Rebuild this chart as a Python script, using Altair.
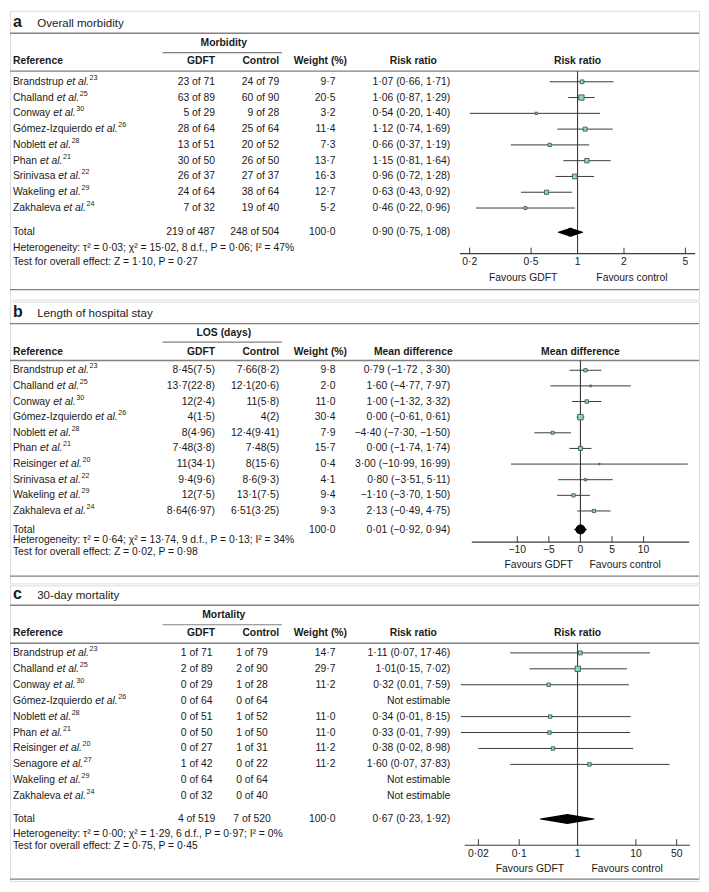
import altair as alt
import pandas as pd

# ---------------- data ----------------
# Panel a: overall morbidity
a_names = ["Brandstrup", "Challand", "Conway", "Gómez-Izquierdo", "Noblett", "Phan", "Srinivasa", "Wakeling", "Zakhaleva"]
a_refs = ["23", "25", "30", "26", "28", "21", "22", "29", "24"]
a_gdft = ["23 of 71", "63 of 89", "5 of 29", "28 of 64", "13 of 51", "30 of 50", "26 of 37", "24 of 64", "7 of 32"]
a_ctrl = ["24 of 79", "60 of 90", "9 of 28", "25 of 64", "20 of 52", "26 of 50", "27 of 37", "38 of 64", "19 of 40"]
a_weight = [9.7, 20.5, 3.2, 11.4, 7.3, 13.7, 16.3, 12.7, 5.2]
a_est = [1.07, 1.06, 0.54, 1.12, 0.66, 1.15, 0.96, 0.63, 0.46]
a_lo = [0.66, 0.87, 0.20, 0.74, 0.37, 0.81, 0.72, 0.43, 0.22]
a_hi = [1.71, 1.29, 1.40, 1.69, 1.19, 1.64, 1.28, 0.92, 0.96]
a_eff = ["1·07 (0·66, 1·71)", "1·06 (0·87, 1·29)", "0·54 (0·20, 1·40)", "1·12 (0·74, 1·69)",
         "0·66 (0·37, 1·19)", "1·15 (0·81, 1·64)", "0·96 (0·72, 1·28)", "0·63 (0·43, 0·92)", "0·46 (0·22, 0·96)"]
a_total_text = ["219 of 487", "248 of 504", "100·0", "0·90 (0·75, 1·08)"]
a_total = [0.90, 0.75, 1.08]
a_ticks = [0.2, 0.5, 1, 2, 5]
a_tick_labels = ["0·2", "0·5", "1", "2", "5"]

# Panel b: length of hospital stay
b_names = ["Brandstrup", "Challand", "Conway", "Gómez-Izquierdo", "Noblett", "Phan", "Reisinger", "Srinivasa", "Wakeling", "Zakhaleva"]
b_refs = ["23", "25", "30", "26", "28", "21", "20", "22", "29", "24"]
b_gdft = ["8·45(7·5)", "13·7(22·8)", "12(2·4)", "4(1·5)", "8(4·96)", "7·48(3·8)", "11(34·1)", "9·4(9·6)", "12(7·5)", "8·64(6·97)"]
b_ctrl = ["7·66(8·2)", "12·1(20·6)", "11(5·8)", "4(2)", "12·4(9·41)", "7·48(5)", "8(15·6)", "8·6(9·3)", "13·1(7·5)", "6·51(3·25)"]
b_weight = [9.8, 2.0, 11.0, 30.4, 7.9, 15.7, 0.4, 4.1, 9.4, 9.3]
b_est = [0.79, 1.60, 1.00, 0.00, -4.40, 0.00, 3.00, 0.80, -1.10, 2.13]
b_lo = [-1.72, -4.77, -1.32, -0.61, -7.30, -1.74, -10.99, -3.51, -3.70, -0.49]
b_hi = [3.30, 7.97, 3.32, 0.61, -1.50, 1.74, 16.99, 5.11, 1.50, 4.75]
b_eff = ["0·79 (−1·72 , 3·30)", "1·60 (−4·77, 7·97)", "1·00 (−1·32, 3·32)", "0·00 (−0·61, 0·61)",
         "−4·40 (−7·30, −1·50)", "0·00 (−1·74, 1·74)", "3·00 (−10·99, 16·99)", "0·80 (−3·51, 5·11)",
         "−1·10 (−3·70, 1·50)", "2·13 (−0·49, 4·75)"]
b_total_text = ["", "", "100·0", "0·01 (−0·92, 0·94)"]
b_total = [0.01, -0.92, 0.94]
b_ticks = [-10, -5, 0, 5, 10]
b_tick_labels = ["−10", "−5", "0", "5", "10"]

# Panel c: 30-day mortality
c_names = ["Brandstrup", "Challand", "Conway", "Gómez-Izquierdo", "Noblett", "Phan", "Reisinger", "Senagore", "Wakeling", "Zakhaleva"]
c_refs = ["23", "25", "30", "26", "28", "21", "20", "27", "29", "24"]
c_gdft = ["1 of 71", "2 of 89", "0 of 29", "0 of 64", "0 of 51", "0 of 50", "0 of 27", "1 of 42", "0 of 64", "0 of 32"]
c_ctrl = ["1 of 79", "2 of 90", "1 of 28", "0 of 64", "1 of 52", "1 of 50", "1 of 31", "0 of 22", "0 of 64", "0 of 40"]
c_weight = [14.7, 29.7, 11.2, None, 11.0, 11.0, 11.2, 11.2, None, None]
c_est = [1.11, 1.01, 0.32, None, 0.34, 0.33, 0.38, 1.60, None, None]
c_lo = [0.07, 0.15, 0.01, None, 0.01, 0.01, 0.02, 0.07, None, None]
c_hi = [17.46, 7.02, 7.59, None, 8.15, 7.99, 8.98, 37.83, None, None]
c_eff = ["1·11 (0·07, 17·46)", "1·01(0·15, 7·02)", "0·32 (0.01, 7·59)", "Not estimable",
         "0·34 (0·01, 8·15)", "0·33 (0·01, 7·99)", "0·38 (0·02, 8·98)", "1·60 (0·07, 37·83)",
         "Not estimable", "Not estimable"]
c_total_text = ["4 of 519", "7 of 520", "100·0", "0·67 (0·23, 1·92)"]
c_total = [0.67, 0.23, 1.92]
c_ticks = [0.02, 0.1, 1, 10, 50]
c_tick_labels = ["0·02", "0·1", "1", "10", "50"]

# ---------------- layout / style ----------------
W = 692
H = 870
SXF = W / 709
SYF = H / 892
FONT = "Liberation Sans"
FS = 10.4
TXT = "#1a1a1a"
RULE = "#808080"
LINE = "#3a3a3a"
TEAL = "#8fd3cb"
EDGE = "#2c4f4c"

AW = {" ": 278, "-": 333, ".": 278,
      "a": 556, "b": 556, "c": 500, "d": 556, "e": 556, "f": 278, "g": 556, "h": 556, "i": 222,
      "j": 222, "k": 500, "l": 222, "m": 833, "n": 556, "o": 556, "p": 556, "q": 556, "r": 333,
      "s": 500, "t": 278, "u": 556, "v": 500, "w": 722, "x": 500, "y": 500, "z": 500, "ó": 556,
      "B": 667, "C": 722, "G": 778, "I": 278, "N": 722, "P": 667, "R": 722, "S": 667, "W": 944, "Z": 611}


def tw(s, fs=FS):
    return sum(AW.get(ch, 556) for ch in s) * fs / 1000.0


def X(x):
    return x * SXF


def fmt_w(w):
    return "" if w is None else f"{w:.1f}".replace(".", "·")


def build(P):
    top_c, h = P["top_c"], P["h"]
    R0, D = P["R0"], P["D"]

    def py(y):
        return y * SYF - top_c

    def ridx(y):
        return (y - R0) / D

    ys = alt.Scale(domain=[ridx(top_c / SYF), ridx((top_c + h) / SYF)], range=[0, h], nice=False, zero=False)
    xs = P["xscale"]

    def YQ(f):
        return alt.Y(f, scale=ys, axis=None)

    def XQ(f):
        return alt.X(f, scale=xs, axis=None)

    def XN(f):
        return alt.X(f, scale=None, axis=None)

    def YN(f):
        return alt.Y(f, scale=None, axis=None)

    names = P["names"]
    n = len(names)
    rows = pd.DataFrame({
        "idx": list(range(n)),
        "name": names,
        "sup": P["refs"],
        "g": P["gdft"],
        "c": P["ctrl"],
        "w": [fmt_w(w) for w in P["weight"]],
        "eff": P["eff"],
        "etal_x": [X(3) + tw(nm + " ") for nm in names],
        "sup_x": [X(3) + tw(nm + " et al.") + 0.6 for nm in names],
    })

    def tl(df, field, x=None, xfield=None, align="left", bold=False, italic=False, fs=FS, dy=0):
        mk = alt.Chart(df).mark_text(align=align, baseline="middle", font=FONT, fontSize=fs,
                                     fontWeight="bold" if bold else "normal",
                                     fontStyle="italic" if italic else "normal", color=TXT, dy=dy)
        enc = dict(y=YQ("idx:Q"), text=alt.Text(f"{field}:N"))
        enc["x"] = alt.value(x) if xfield is None else XN(f"{xfield}:Q")
        return mk.encode(**enc)

    def ftext(items, align="left", bold=False, fs=FS, baseline="middle"):
        df = pd.DataFrame(items, columns=["x", "y", "t"])
        return alt.Chart(df).mark_text(align=align, baseline=baseline, font=FONT, fontSize=fs,
                                       fontWeight="bold" if bold else "normal", color=TXT).encode(
            x=XN("x:Q"), y=YN("y:Q"), text="t:N")

    def hrules(items, sw=1.2):
        df = pd.DataFrame(items, columns=["x1", "x2", "y"])
        return alt.Chart(df).mark_rule(color=RULE, strokeWidth=sw).encode(
            x=XN("x1:Q"), x2="x2:Q", y=YN("y:Q"))

    layers = []
    # horizontal rules
    layers.append(hrules([(0, W, py(P["top_rule"])), (0, W, py(P["header_rule"])), (0, W, py(P["bottom_rule"]))], 1.4))
    layers.append(hrules([(X(157), X(280), py(P["sub_rule"]))], 1.1))

    # titles
    layers.append(ftext([(X(3), py(P["title_y"]), P["letter"])], bold=True, fs=16, baseline="alphabetic"))
    layers.append(ftext([(X(28), py(P["title_y"]), P["title"])], fs=11.6, baseline="alphabetic"))

    # headers
    hy = py(P["header_y"])
    layers.append(ftext([(X(220), py(P["group_y"]), P["group"]), (X(415), hy, P["eff_header"])], align="center", bold=True))
    layers.append(ftext([(X(3), hy, "Reference"), (X(292), hy, "Weight (%)")], bold=True))
    layers.append(ftext([(X(211), hy, "GDFT"), (X(277), hy, "Control")], align="right", bold=True))

    # study rows
    layers.append(tl(rows, "name", x=X(3)))
    layers.append(alt.Chart(rows).mark_text(align="left", baseline="middle", font=FONT, fontSize=FS,
                                            fontStyle="italic", color=TXT).encode(
        x=XN("etal_x:Q"), y=YQ("idx:Q"), text=alt.value("et al.")))
    layers.append(tl(rows, "sup", xfield="sup_x", fs=7.2, dy=-4))
    if P["center_counts"]:
        layers.append(tl(rows, "g", x=X(192), align="center"))
        layers.append(tl(rows, "c", x=X(249), align="center"))
    else:
        layers.append(tl(rows, "g", x=X(211), align="right"))
        layers.append(tl(rows, "c", x=X(277), align="right"))
    layers.append(tl(rows, "w", x=X(335), align="right"))
    layers.append(tl(rows, "eff", x=X(453), align="right"))

    # total row
    t_idx = ridx(P["total_y"])
    tt = P["total_text"]
    tot = pd.DataFrame({"idx": [t_idx], "lab": ["Total"], "g": [tt[0]], "c": [tt[1]], "w": [tt[2]], "eff": [tt[3]]})
    layers.append(tl(tot, "lab", x=X(3)))
    if P["center_counts"]:
        layers.append(tl(tot, "g", x=X(192), align="center"))
        layers.append(tl(tot, "c", x=X(249), align="center"))
    else:
        layers.append(tl(tot, "g", x=X(211), align="right"))
        layers.append(tl(tot, "c", x=X(277), align="right"))
    layers.append(tl(tot, "w", x=X(335), align="right"))
    layers.append(tl(tot, "eff", x=X(453), align="right"))

    # heterogeneity / test
    layers.append(ftext([(X(3), py(P["het_y"]), P["het"]), (X(3), py(P["test_y"]), P["test"])]))

    # ---- forest plot ----
    null = P["null"]
    nl = pd.DataFrame({"v": [null], "t": [P["eff_header"]]})
    layers.append(alt.Chart(nl).mark_rule(color=LINE, strokeWidth=1.1).encode(
        x=XQ("v:Q"), y=alt.value(py(P["header_rule"])), y2=alt.value(py(P["axis_y"]))))
    layers.append(alt.Chart(nl).mark_text(align="center", baseline="middle", font=FONT, fontSize=FS,
                                          fontWeight="bold", color=TXT).encode(
        x=XQ("v:Q"), y=alt.value(hy), text="t:N"))

    fr = pd.DataFrame({"idx": list(range(n)), "est": P["est"], "lo": P["lo"], "hi": P["hi"],
                       "wt": [w if w is not None else 0 for w in P["weight"]]})
    fr = fr.dropna(subset=["est"])
    fr["sz"] = fr["wt"] * P["k"] + 1.5
    layers.append(alt.Chart(fr).mark_rule(color=LINE, strokeWidth=1).encode(
        x=XQ("lo:Q"), x2="hi:Q", y=YQ("idx:Q")))
    layers.append(alt.Chart(fr).mark_square(color=TEAL, stroke=EDGE, strokeWidth=0.8, opacity=1).encode(
        x=XQ("est:Q"), y=YQ("idx:Q"), size=alt.Size("sz:Q", scale=None, legend=None)))

    # pooled-estimate diamond (trail whose width grows to the point estimate)
    est, lo, hi = P["total"]
    dia = pd.DataFrame({"px": [lo, est, hi], "py": [t_idx, t_idx, t_idx], "w": [0.0, 2 * P["dia_h"], 0.0], "o": [0, 1, 2]})
    layers.append(alt.Chart(dia).mark_trail(color="black", opacity=1).encode(
        x=XQ("px:Q"), y=YQ("py:Q"), size=alt.Size("w:Q", scale=None, legend=None), order="o:Q"))

    # axis
    ay = py(P["axis_y"])
    ax = pd.DataFrame({"a": [P["ext"][0]], "b": [P["ext"][1]]})
    layers.append(alt.Chart(ax).mark_rule(color=LINE, strokeWidth=1.1).encode(
        x=XQ("a:Q"), x2="b:Q", y=alt.value(ay)))
    tk = pd.DataFrame({"v": P["ticks"], "lab": P["tick_labels"]})
    layers.append(alt.Chart(tk).mark_rule(color=LINE, strokeWidth=1).encode(
        x=XQ("v:Q"), y=alt.value(ay - 6), y2=alt.value(ay)))
    layers.append(alt.Chart(tk).mark_text(align="center", baseline="middle", font=FONT, fontSize=FS, color=TXT).encode(
        x=XQ("v:Q"), y=alt.value(py(P["ticklab_y"])), text="lab:N"))
    fy = py(P["fav_y"])
    layers.append(ftext([(X(P["fav"][0]), fy, "Favours GDFT"), (X(P["fav"][1]), fy, "Favours control")], align="center"))

    return alt.layer(*layers).properties(width=W, height=h)


tops = [0, round(297 * SYF), round(588 * SYF), H]

PA = dict(top_c=tops[0], h=tops[1] - tops[0], R0=73, D=16.25, letter="a", title="Overall morbidity",
          group="Morbidity", eff_header="Risk ratio", names=a_names, refs=a_refs, gdft=a_gdft, ctrl=a_ctrl,
          weight=a_weight, est=a_est, lo=a_lo, hi=a_hi, eff=a_eff, total_text=a_total_text, total=a_total,
          ticks=a_ticks, tick_labels=a_tick_labels, center_counts=False, k=1.3, null=1,
          xscale=alt.Scale(type="log", domain=[0.2, 5], range=[X(473), X(695)], nice=False, zero=False),
          ext=[0.173, 5.78], title_y=17, top_rule=23, group_y=33, sub_rule=43, header_y=52, header_rule=62,
          total_y=228, het_y=244, test_y=259, axis_y=250, ticklab_y=259, fav_y=275, bottom_rule=287,
          fav=[528, 640], dia_h=4.5,
          het="Heterogeneity: τ² = 0·03; χ² = 15·02, 8 d.f., P = 0·06; I² = 47%",
          test="Test for overall effect: Z = 1·10, P = 0·27")

PB = dict(top_c=tops[1], h=tops[2] - tops[1], R0=368, D=16.1, letter="b", title="Length of hospital stay",
          group="LOS (days)", eff_header="Mean difference", names=b_names, refs=b_refs, gdft=b_gdft, ctrl=b_ctrl,
          weight=b_weight, est=b_est, lo=b_lo, hi=b_hi, eff=b_eff, total_text=b_total_text, total=b_total,
          ticks=b_ticks, tick_labels=b_tick_labels, center_counts=False, k=0.95, null=0,
          xscale=alt.Scale(type="linear", domain=[-10, 10], range=[X(522), X(652)], nice=False, zero=False),
          ext=[-17.2, 17.2], title_y=313, top_rule=320, group_y=330, sub_rule=339, header_y=349, header_rule=358,
          total_y=532, het_y=543, test_y=555, axis_y=545, ticklab_y=553, fav_y=569, bottom_rule=580,
          fav=[544, 633], dia_h=5,
          het="Heterogeneity: τ² = 0·64; χ² = 13·74, 9 d.f., P = 0·13; I² = 34%",
          test="Test for overall effect: Z = 0·02, P = 0·98")

PC = dict(top_c=tops[2], h=tops[3] - tops[2], R0=657, D=16.4, letter="c", title="30-day mortality",
          group="Mortality", eff_header="Risk ratio", names=c_names, refs=c_refs, gdft=c_gdft, ctrl=c_ctrl,
          weight=c_weight, est=c_est, lo=c_lo, hi=c_hi, eff=c_eff, total_text=c_total_text, total=c_total,
          ticks=c_ticks, tick_labels=c_tick_labels, center_counts=True, k=0.95, null=1,
          xscale=alt.Scale(type="log", domain=[0.02, 50], range=[X(482), X(686)], nice=False, zero=False),
          ext=[0.0117, 85], title_y=601, top_rule=608, group_y=618, sub_rule=628, header_y=637, header_rule=647,
          total_y=828, het_y=844, test_y=856, axis_y=855, ticklab_y=864, fav_y=880, bottom_rule=890,
          fav=[535, 635], dia_h=5,
          het="Heterogeneity: τ² = 0·00; χ² = 1·29, 6 d.f., P = 0·97; I² = 0%",
          test="Test for overall effect: Z = 0·75, P = 0·45")

chart = alt.vconcat(build(PA), build(PB), build(PC), spacing=0).properties(
    padding={"left": 0, "top": 0, "right": 0, "bottom": 0}
).configure_view(stroke=None).configure(font=FONT)

chart.save("out.html", embed_options={"renderer": "svg", "actions": False})
